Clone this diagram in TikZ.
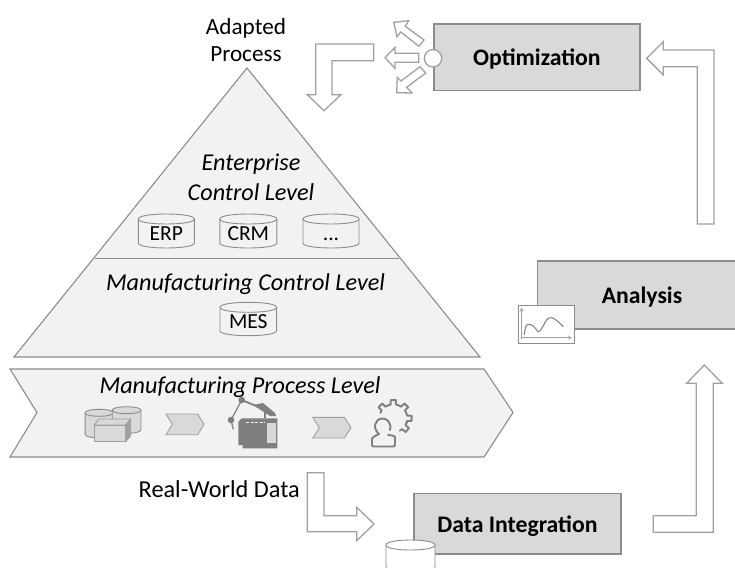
\documentclass[tikz,border=0pt]{standalone}
\usepackage{fontspec}
\setmainfont{Carlito}
\definecolor{boxgray}{HTML}{D9D9D9}
\definecolor{lightgray2}{HTML}{F2F2F2}
\definecolor{linegray}{HTML}{8C8C8C}
\definecolor{arrowgray}{HTML}{A0A0A0}
\definecolor{icondark}{HTML}{7F7F7F}
\tikzset{
  procbox/.style={draw=linegray,line width=1.5pt,fill=boxgray,inner sep=0pt,text height=20pt,text depth=3pt,font=\fontsize{23.7}{28}\selectfont\bfseries},
  bigarrow/.style={draw=arrowgray,line width=1.3pt,fill=white,line join=miter},
  level/.style={draw=linegray,line width=1.1pt,fill=lightgray2,line join=miter},
  dbline/.style={draw=linegray,line width=.9pt},
  dbtext/.style={font=\fontsize{21.5}{24}\selectfont,inner sep=0pt,anchor=base},
  label/.style={font=\fontsize{23.2}{27}\selectfont,align=center,inner sep=0pt},
  rwlabel/.style={font=\fontsize{24.3}{27}\selectfont,inner sep=0pt},
  ilabel/.style={font=\fontsize{24.2}{30}\selectfont\itshape,align=center,inner sep=0pt},
  chev/.style={draw=arrowgray,line width=.9pt,fill=boxgray},
  icon/.style={draw=arrowgray,line width=.9pt,fill=boxgray,line join=round},
  outl/.style={draw=icondark,line width=1.9pt,line join=round,line cap=round},
}
% name, cx, cy, w, h, ry, fill, text
\newcommand\dbdraw[8]{%
  \begin{scope}[shift={(#2,#3)}]
    \path[dbline,fill=#7] (-#4/2,-#5/2+#6) -- (-#4/2,#5/2-#6) .. controls (-#4/2,#5/2+#6/3) and (#4/2,#5/2+#6/3) .. (#4/2,#5/2-#6) -- (#4/2,-#5/2+#6) .. controls (#4/2,-#5/2-#6/3) and (-#4/2,-#5/2-#6/3) .. cycle;
    \draw[dbline] (-#4/2,-#5/2+#6) .. controls (-#4/2,-#5/2+7*#6/3) and (#4/2,-#5/2+7*#6/3) .. (#4/2,-#5/2+#6);
  \end{scope}
  \node[dbtext] (#1) at (#2,#3+9) {#8};}
\begin{document}
\begin{tikzpicture}[x=1pt,y=-1pt]
\useasboundingbox (0,0) rectangle (735,567);
% pyramid
\draw[level] (247,68) -- (480,357) -- (14,357) -- cycle;
\draw[draw=linegray,line width=1pt] (95,258) -- (399,258);
% band
\draw[level] (10,369) -- (484,369) -- (513,412.5) -- (484,457) -- (10,457) -- (37,412.5) -- cycle;
% texts
\node[ilabel] (ecl) at (251,177) {Enterprise\\Control Level};
\node[ilabel] (mcl) at (245.5,284) {Manufacturing Control Level};
\node[ilabel] (mpl) at (240,387) {Manufacturing Process Level};
\node[label] (adp) at (246,40.5) {Adapted\\Process};
\node[rwlabel,anchor=east] (rwd) at (300,489) {Real-World Data};
% databases
\dbdraw{erp}{166.3}{231}{56}{34}{5}{lightgray2}{ERP}
\dbdraw{crm}{248.3}{231}{57}{34}{5}{lightgray2}{CRM}
\dbdraw{etc}{331}{231}{56}{34}{5}{lightgray2}{...}
\dbdraw{mes}{248.3}{319}{56.7}{33.4}{5}{lightgray2}{MES}
% process boxes
\node[procbox,minimum width=206.3pt,minimum height=66.7pt] (opt) at (536.9,57.3) {Optimization};
\node[procbox,minimum width=203pt,minimum height=67.7pt] (ana) at (639.2,295) {\hspace*{5.6pt}Analysis};
\node[procbox,minimum width=206.7pt,minimum height=60.7pt] (dat) at (517.4,523.7) {Data Integration};
% optimization connectors
\node[circle,draw=arrowgray,line width=1.3pt,fill=white,minimum size=17.4pt,inner sep=0pt] (hub) at (433,58.3) {};
\draw[bigarrow] (393.7,22.3) -- (408.7,20.7) -- (405.3,26.3) -- (424,40) -- (419,46.3) -- (400.7,32) -- (397,36.7) -- cycle;
\draw[bigarrow] (385,57.7) -- (395,47.3) -- (395,53.3) -- (418.7,53.3) -- (418.7,62.3) -- (395,62.3) -- (395,68.3) -- cycle;
\draw[bigarrow] (396.7,92.7) -- (412,93) -- (406.7,87.3) -- (425.7,73) -- (420,66.7) -- (401,81) -- (397.3,77.3) -- cycle;
\draw[bigarrow] (315.7,44) -- (373.7,44) -- (373.7,60.7) -- (332,60.7) -- (332,94.7) -- (341,94.7) -- (324,110.7) -- (307.3,94.7) -- (315.7,94.7) -- cycle;
% right arrows
\draw[bigarrow] (646.7,58.3) -- (663.3,41.7) -- (663.3,50) -- (714,50) -- (714,224) -- (697.3,224) -- (697.3,66.7) -- (663.3,66.7) -- (663.3,75) -- cycle;
\draw[bigarrow] (653.3,515.7) -- (696.3,515.7) -- (696.3,383.3) -- (686.7,383.3) -- (704.3,365) -- (722.3,383.3) -- (713.3,383.3) -- (713.3,532.3) -- (653.3,532.3) -- cycle;
\draw[bigarrow] (307.3,472.7) -- (324,472.7) -- (324,515.7) -- (356.7,515.7) -- (356.7,507.3) -- (374,524) -- (356.7,540.7) -- (356.7,531.7) -- (307.3,531.7) -- cycle;
% small database under data integration
\dbdraw{raw}{410.5}{556}{49}{32}{5}{white}{}
% chart
\node[draw=linegray,line width=1.3pt,fill=white,minimum width=56pt,minimum height=37.6pt,inner sep=0pt] (chart) at (546.3,324.5) {};
\draw[arrowgray,line width=.8pt,-stealth] (521.7,338.5) -- (521.7,307.5);
\draw[arrowgray,line width=.8pt,-stealth] (521,337.7) -- (572,337.7);
\draw[icondark,line width=1pt] plot[smooth,tension=.7] coordinates {(524.3,335) (526.7,325) (533.3,326) (538.3,331.7) (541.7,328.3) (548.3,318.3) (555,319.3) (563.3,326.7)};
% chevrons
\draw[chev] (166,414) -- (197.7,414) -- (204,424.3) -- (197.7,434.7) -- (166,434.7) -- (172.3,424.3) -- cycle;
\draw[chev] (312.7,417.3) -- (344.3,417.3) -- (351,427.7) -- (344.3,438) -- (312.7,438) -- (319.3,427.7) -- cycle;
% data icon
\dbdraw{cyla}{99.2}{423.6}{28.3}{28.6}{3.5}{boxgray}{}
\dbdraw{cylb}{126.6}{420}{28.7}{26.6}{3.5}{boxgray}{}
\draw[icon] (94.3,425) -- (99,419) -- (130.7,419) -- (125.7,425) -- cycle;
\draw[icon] (94.3,425) rectangle (125.7,441.7);
\draw[icon,fill=arrowgray] (125.7,425) -- (130.7,419) -- (130.7,435.7) -- (125.7,441.7) -- cycle;
% robot icon
\fill[icondark] (241.7,418.3) -- (277.3,418.3) -- (277.3,448.3) -- (242.7,448.3) -- (242.7,445) -- (238.3,445) -- (238.3,421.7) -- cycle;
\fill[boxgray] (267.3,423.3) rectangle (276,443.3);
\draw[lightgray2,line width=1pt,dash pattern=on 3pt off 1.5pt] (246,422.7) -- (265,422.7);
\draw[icondark,line width=1.2pt] (241.7,400) -- (231,420) -- (233.3,429.3);
\draw[icondark,line width=1.8pt] (241.7,400) -- (266,410) (265,411) -- (265,418);
\fill[icondark] (253,405) -- (263,403) -- (275,413) -- (276,416) -- (270,416) -- cycle;
\fill[icondark] (241.7,400) circle[radius=3.3];
\fill[icondark] (231,420) circle[radius=3.3];
% person-and-gear icon
\begin{scope}[shift={(393.3,418.3)}]
  \foreach \a in {40,0,-45,-90,-135}
    \draw[outl] (\a-22:14) -- (\a-11:14) -- (\a-8:18.5) -- (\a+8:18.5) -- (\a+11:14) -- (\a+22:14);
\end{scope}
\draw[outl] (390,430) .. controls (392,422) and (386,418) .. (382,418.5) .. controls (375,419) and (372,428) .. (379,434) -- (376,435.5) -- (375,436) .. controls (372,437) and (372,438) .. (372,442) -- (372,445) .. controls (372,446) and (373,446.5) .. (374,446.5) -- (393,446.5) .. controls (394,446.5) and (395,446) .. (395,445) -- (395,437) .. controls (395,436) and (393,435.5) .. (388,435);
\end{tikzpicture}
\end{document}
